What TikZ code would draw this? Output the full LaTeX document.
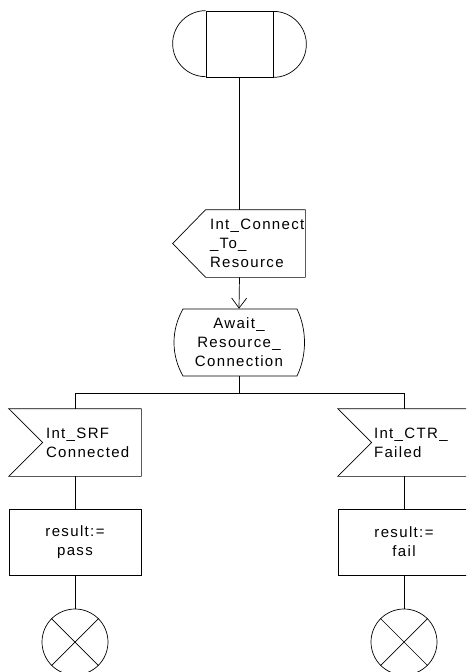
\documentclass[tikz,border=0pt]{standalone}
\usepackage{fontspec}
\setmainfont{Liberation Sans}[LetterSpace=9]
\usetikzlibrary{arrows.meta}
\begin{document}
\begin{tikzpicture}[x=1pt,y=-1pt,line width=0.7pt,
  lbl/.style={font=\fontsize{15}{19}\selectfont,inner sep=0pt},
  sigbox/.style={minimum width=132pt,minimum height=67pt,inner sep=0pt},
  taskbox/.style={draw,minimum width=132pt,minimum height=66pt,inner sep=0pt,lbl,align=center},
  endsym/.style={draw,circle,minimum size=66pt,inner sep=0pt},
  openarrow/.style={-{Straight Barb[length=10pt,width=15pt]}}]
\clip (0,0) rectangle (466,672);
% start symbol
\node[draw,minimum width=67pt,minimum height=66pt,inner sep=0pt] (start) at (239.5,44) {};
\draw (start.north west) arc[start angle=90,end angle=270,radius=33pt];
\draw (start.south east) arc[start angle=-90,end angle=90,radius=33pt];
% output
\node[minimum width=99pt,minimum height=67pt,inner sep=0pt] (out) at (255.5,243.5) {};
\draw (out.north west) -- ([xshift=-33pt]out.west) -- (out.south west) -- (out.south east) -- (out.north east) -- cycle;
\node[lbl,anchor=west,align=left] (outt) at ([xshift=4pt]out.west) {Int\_Connect\\\_To\_\\Resource};
% state
\node[minimum width=132pt,minimum height=67pt,inner sep=0pt] (state) at (239,342.5) {};
\draw (183,309) -- (297,309) .. controls (307,330) and (307,355) .. (297,376) -- (183,376) .. controls (171,355) and (171,330) .. cycle;
\node[lbl,align=center] (statet) at (state) {Await\_\\Resource\_\\Connection};
% connectors top
\draw (start.south) -- (start.south |- out.north);
\draw[openarrow] (start.south |- out.south) -- (state.north);
% inputs
\node[sigbox] (in1) at (75,442.5) {};
\draw (in1.north west) -- (in1.north east) -- (in1.south east) -- (in1.south west) -- ([xshift=34pt]in1.west) -- cycle;
\node[lbl,anchor=west,align=left] (in1t) at ([xshift=37pt]in1.west) {Int\_SRF\\Connected};
\node[sigbox] (in2) at (404,442.5) {};
\draw (in2.north west) -- (in2.north east) -- (in2.south east) -- (in2.south west) -- ([xshift=34pt]in2.west) -- cycle;
\node[lbl,anchor=west,align=left] (in2t) at ([xshift=36pt]in2.west) {Int\_CTR\_\\Failed};
% bus
\coordinate (busL) at (75,393);
\draw (state.south) -- (state.south |- busL);
\draw (in1.north) -- (busL) -- (busL -| in2.north) -- (in2.north);
% tasks
\node[taskbox] (t1) at (75,542) {result:=\\pass};
\node[taskbox] (t2) at (404,542) {result:=\\fail};
\draw (in1.south) -- (t1.north);
\draw (in2.south) -- (t2.north);
% ends
\node[endsym] (e1) at (75,642) {};
\node[endsym] (e2) at (404,642) {};
\draw (e1.north west) -- (e1.south east) (e1.north east) -- (e1.south west);
\draw (e2.north west) -- (e2.south east) (e2.north east) -- (e2.south west);
\draw (t1.south) -- (e1.north);
\draw (t2.south) -- (e2.north);
\end{tikzpicture}
\end{document}
